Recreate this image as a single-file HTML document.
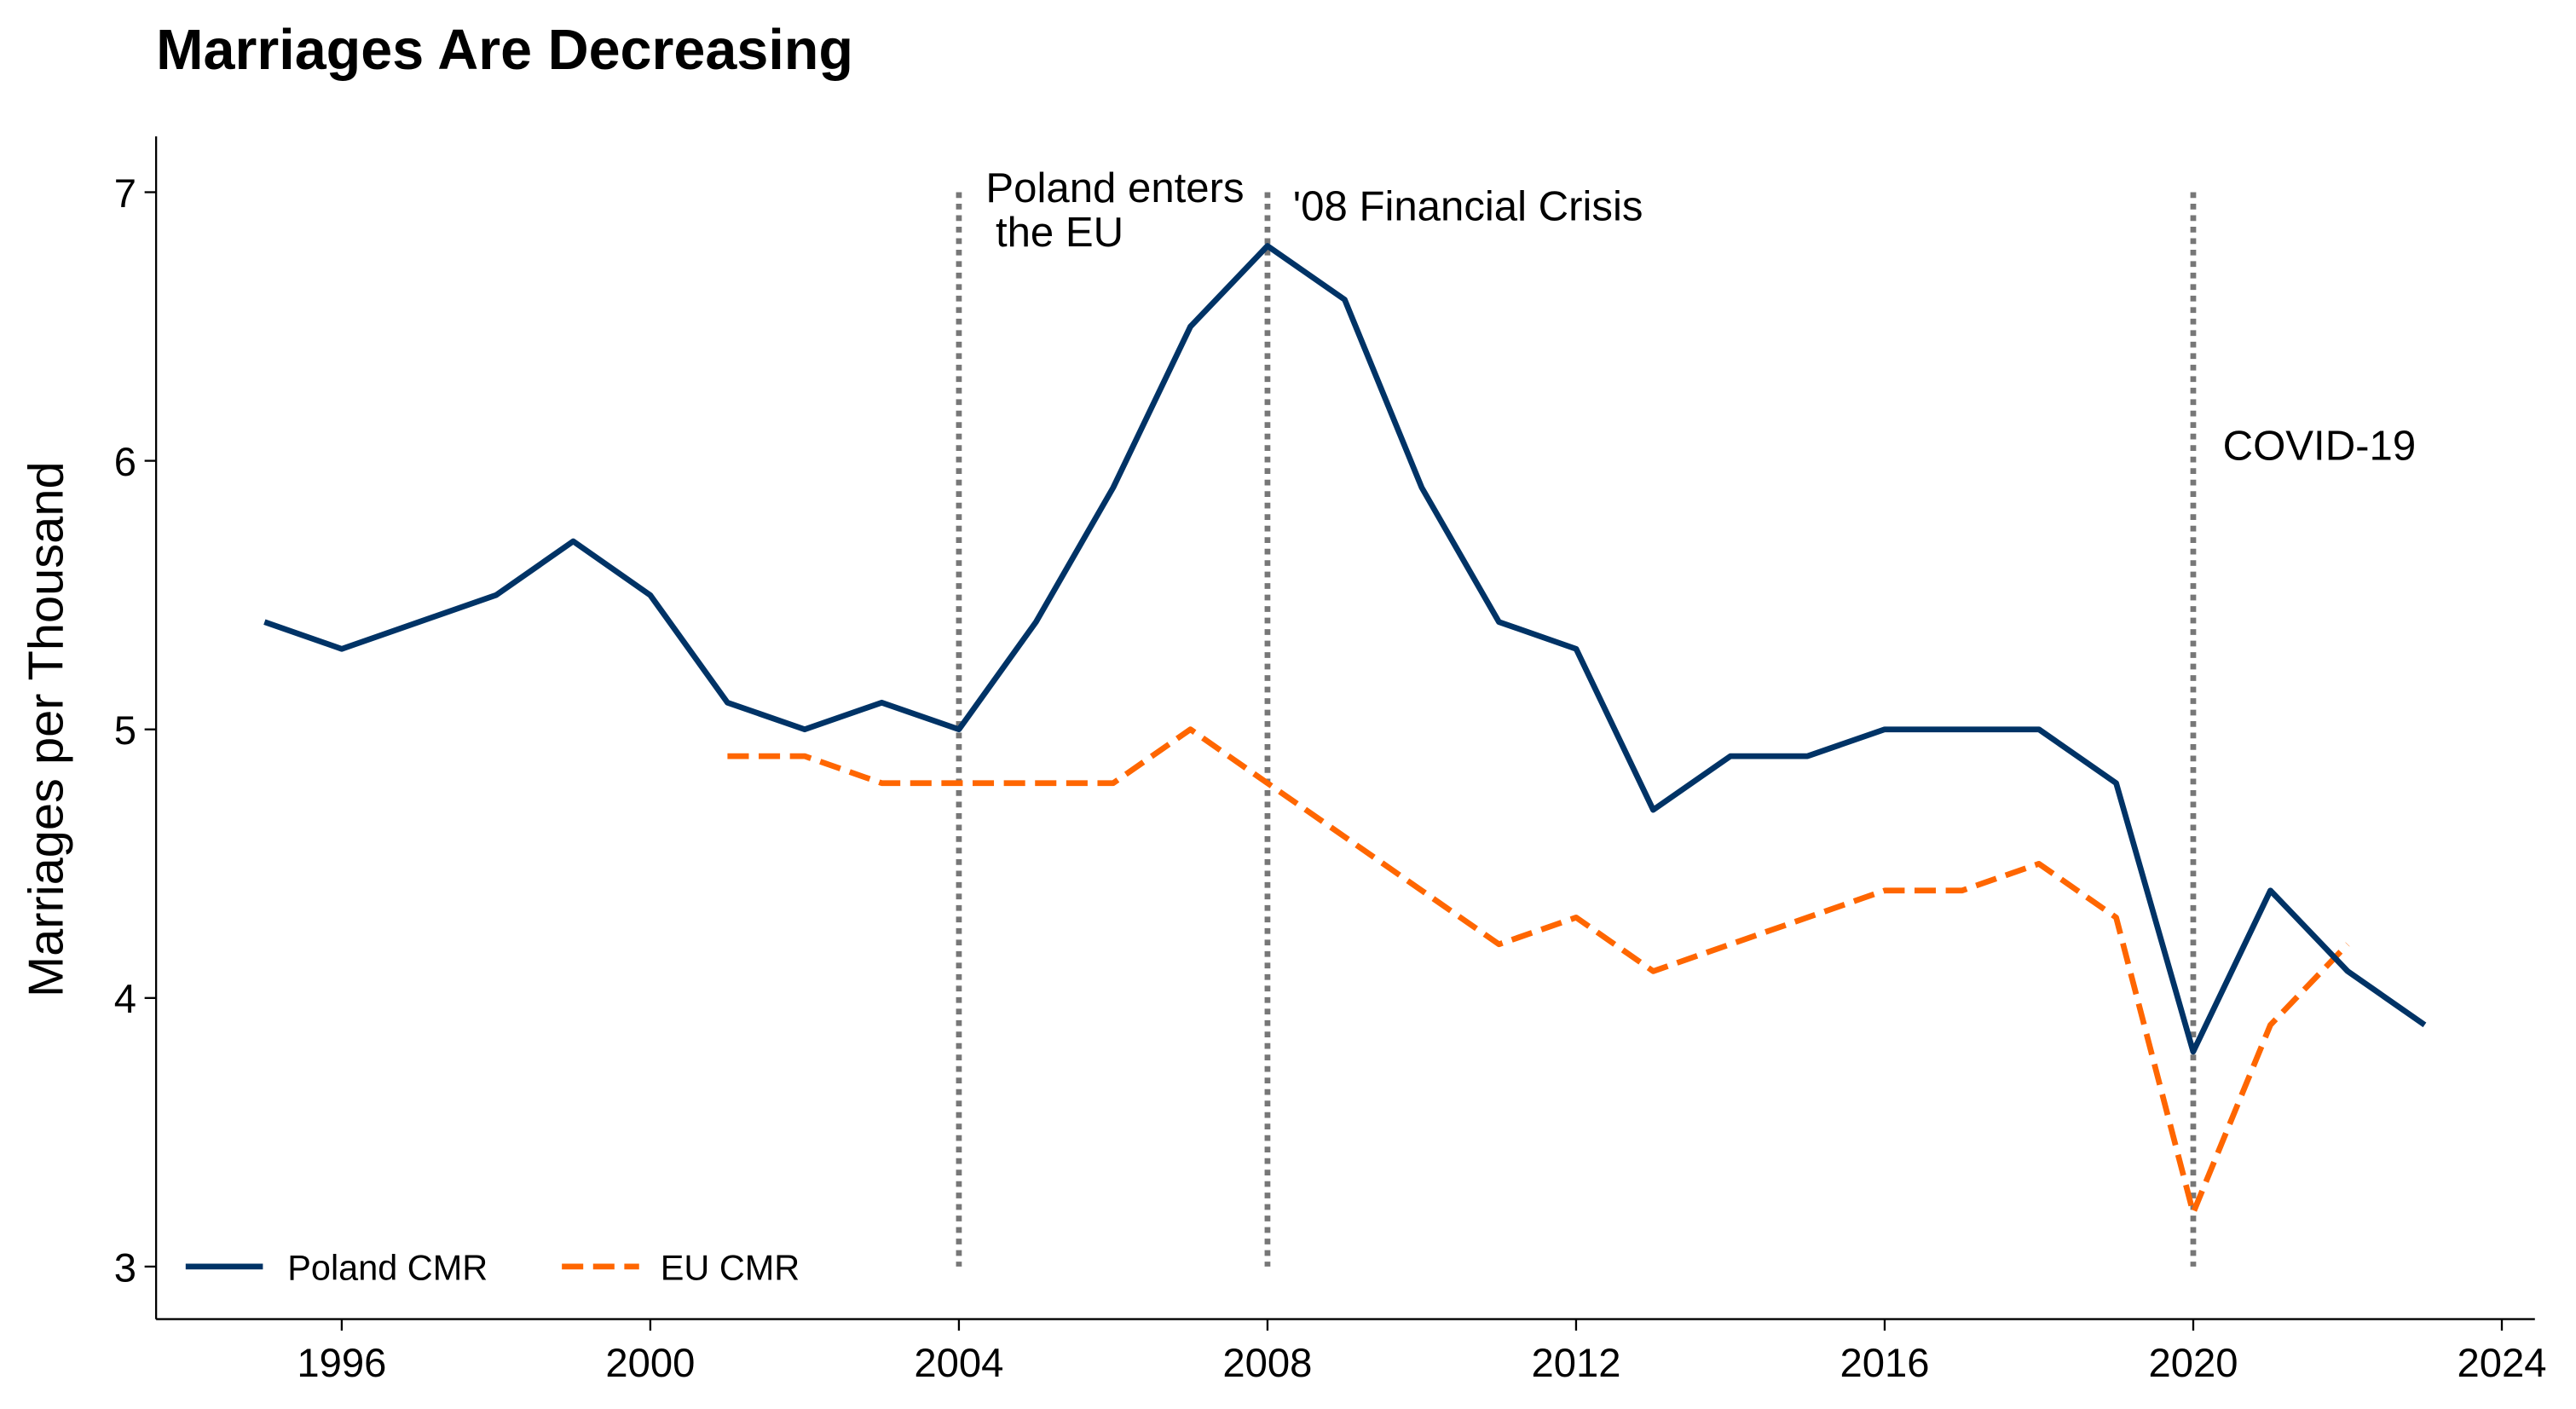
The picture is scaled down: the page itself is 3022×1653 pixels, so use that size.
<!DOCTYPE html>
<html><head><meta charset="utf-8"><style>
html,body{margin:0;padding:0;background:#fff;}
svg{display:block;font-family:"Liberation Sans",Arial,sans-serif;}
</style></head><body>
<svg id="chart" width="3022" height="1653" viewBox="0 0 1568 857.7" xmlns="http://www.w3.org/2000/svg">
<rect width="1568" height="857.7" fill="#fff"/>
<text x="95" y="42" font-size="34.5" font-weight="bold" fill="#000">Marriages Are Decreasing</text>
<text transform="translate(38,444) rotate(-90)" text-anchor="middle" font-size="30" fill="#000">Marriages per Thousand</text>
<g id="axes"></g>
<g id="marks"></g>
</svg>
<script>
const polandYears=[1995,1996,1997,1998,1999,2000,2001,2002,2003,2004,2005,2006,2007,2008,2009,2010,2011,2012,2013,2014,2015,2016,2017,2018,2019,2020,2021,2022,2023];
const polandValues=[5.4,5.3,5.4,5.5,5.7,5.5,5.1,5.0,5.1,5.0,5.4,5.9,6.5,6.8,6.6,5.9,5.4,5.3,4.7,4.9,4.9,5.0,5.0,5.0,4.8,3.8,4.4,4.1,3.9];
const euYears=[2001,2002,2003,2004,2005,2006,2007,2008,2009,2010,2011,2012,2013,2014,2015,2016,2017,2018,2019,2020,2021,2022];
const euValues=[4.9,4.9,4.8,4.8,4.8,4.8,5.0,4.8,4.6,4.4,4.2,4.3,4.1,4.2,4.3,4.4,4.4,4.5,4.3,3.2,3.9,4.2];
const xTicks=[1996,2000,2004,2008,2012,2016,2020,2024];
const yTicks=[3,4,5,6,7];
const eventYears=[2004,2008,2020];

const NS="http://www.w3.org/2000/svg";
const X=y=>208+(y-1996)*46.96;
const Y=v=>771-(v-3)*163.5;
function mk(tag,attrs,parent){const e=document.createElementNS(NS,tag);for(const k in attrs)e.setAttribute(k,attrs[k]);parent.appendChild(e);return e;}
const axes=document.getElementById('axes'), marks=document.getElementById('marks');

let e=mk('line',{x1:95,y1:83,x2:95,y2:803,stroke:'#000','stroke-width':1.2},axes);


e=mk('line',{x1:95,y1:803,x2:1543,y2:803,stroke:'#000','stroke-width':1.2},axes);


xTicks.forEach(t=>{
  mk('line',{x1:X(t),y1:803,x2:X(t),y2:810,stroke:'#000','stroke-width':1.2},axes);
  const tx=mk('text',{x:X(t),y:838,'text-anchor':'middle','font-size':24.5},axes);
  tx.textContent=t;
  
  
});
yTicks.forEach(t=>{
  mk('line',{x1:88,y1:Y(t),x2:95,y2:Y(t),stroke:'#000','stroke-width':1.2},axes);
  const tx=mk('text',{x:83,y:Y(t)+9,'text-anchor':'end','font-size':24.5},axes);
  tx.textContent=t;
  
  
});
eventYears.forEach(yr=>{
  const l=mk('line',{x1:X(yr),y1:Y(7),x2:X(yr),y2:Y(3),stroke:'#777','stroke-width':3.5,'stroke-dasharray':'3.5 3.5'},marks);
  
  
});
function path(xs,vs,color,dash,name){
  const d=xs.map((x,i)=>(i?'L':'M')+X(x).toFixed(1)+','+Y(vs[i]).toFixed(1)).join(' ');
  const p=mk('path',{d:d,fill:'none',stroke:color,'stroke-width':3.5,'stroke-linejoin':'round'},marks);
  if(dash)p.setAttribute('stroke-dasharray',dash);
  
  
}
path(euYears,euValues,'#ff6600','13 6','eu-cmr-line');
path(polandYears,polandValues,'#003366',null,'poland-cmr-line');

function label(x,y,txt,name,size){const t=mk('text',{x:x,y:y,'font-size':size||25.5},marks);t.textContent=txt;
  
  }
label(600,123,'Poland enters','annotation-eu-entry-1');
label(606,150,'the EU','annotation-eu-entry-2');
label(787,134,"'08 Financial Crisis",'annotation-financial-crisis');
label(1353,280,'COVID-19','annotation-covid');

let g=mk('line',{x1:113,y1:771,x2:160,y2:771,stroke:'#003366','stroke-width':3.5},marks);


label(175,779,'Poland CMR','legend-poland-label',21.5);
g=mk('line',{x1:342,y1:771,x2:389,y2:771,stroke:'#ff6600','stroke-width':3.5,'stroke-dasharray':'13 6'},marks);


label(402,779,'EU CMR','legend-eu-label',21.5);
</script>
</body></html>
